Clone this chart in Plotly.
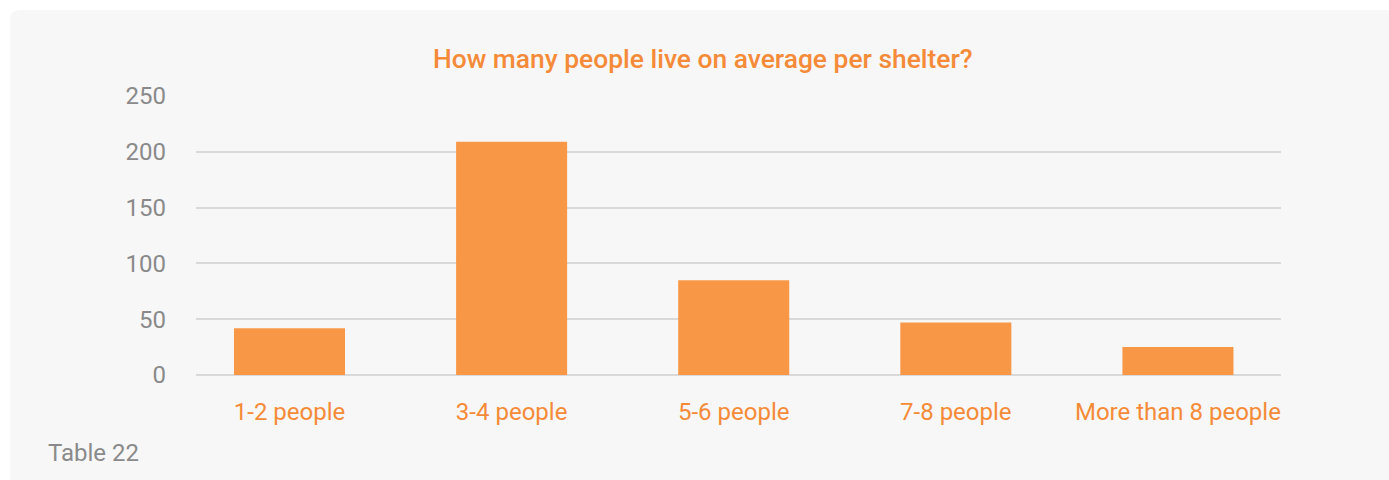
import plotly.graph_objects as go

categories = ["1-2 people", "3-4 people", "5-6 people", "7-8 people", "More than 8 people"]
values = [42, 209, 85, 47, 25]
y_ticks = [0, 50, 100, 150, 200, 250]

W, H = 1389, 480
L, R, T, B = 196, 108, 96, 105
pw = W - L - R
ph = H - T - B

def px(x):
    return (x - L) / pw

def py(y):
    return (H - B - y) / ph

orange_bar = "#F89847"
orange_txt = "#F58B38"
gray = "#8A8A8A"

fig = go.Figure()
fig.add_trace(go.Bar(x=list(range(len(categories))), y=values,
                     marker=dict(color=orange_bar, line=dict(width=0)), width=0.50))

# card background with rounded corners
r = 10
x0, x1 = 10, W + 20
y0, y1 = 10, H + 20
path = (f"M {px(x0 + r)},{py(y0)} L {px(x1)},{py(y0)} L {px(x1)},{py(y1)} L {px(x0)},{py(y1)} "
        f"L {px(x0)},{py(y0 + r)} Q {px(x0)},{py(y0)} {px(x0 + r)},{py(y0)} Z")
fig.add_shape(type="path", path=path, xref="paper", yref="paper",
              fillcolor="#F7F7F7", line=dict(width=0), layer="below")

fig.add_annotation(text="How many people live on average per shelter?", xref="paper", yref="paper",
                   x=px(703), y=py(59), showarrow=False, xanchor="center", yanchor="middle",
                   font=dict(family="Roboto", size=26.4, color=orange_txt, weight=500))
fig.add_annotation(text="Table 22", xref="paper", yref="paper",
                   x=px(46), y=py(453), showarrow=False, xanchor="left", yanchor="middle",
                   font=dict(family="Roboto", size=24, color=gray))

fig.update_layout(
    width=W, height=H,
    margin=dict(l=L, r=R, t=T, b=B, pad=0),
    paper_bgcolor="white",
    plot_bgcolor="rgba(0,0,0,0)",
    showlegend=False,
    xaxis=dict(range=[-0.421, 4.464], tickvals=list(range(len(categories))), ticktext=categories,
               showgrid=False, showline=False, zeroline=False, ticks="",
               tickfont=dict(family="Roboto", size=24, color=orange_txt), ticklabelstandoff=20),
    yaxis=dict(range=[0, 250], tickvals=y_ticks, showgrid=True, gridcolor="#D9D9D9", gridwidth=2,
               zeroline=True, zerolinecolor="#D9D9D9", zerolinewidth=2, showline=False, ticks="",
               tickfont=dict(family="Roboto", size=24, color=gray), ticklabelstandoff=29),
)

fig.write_html("out.html")
